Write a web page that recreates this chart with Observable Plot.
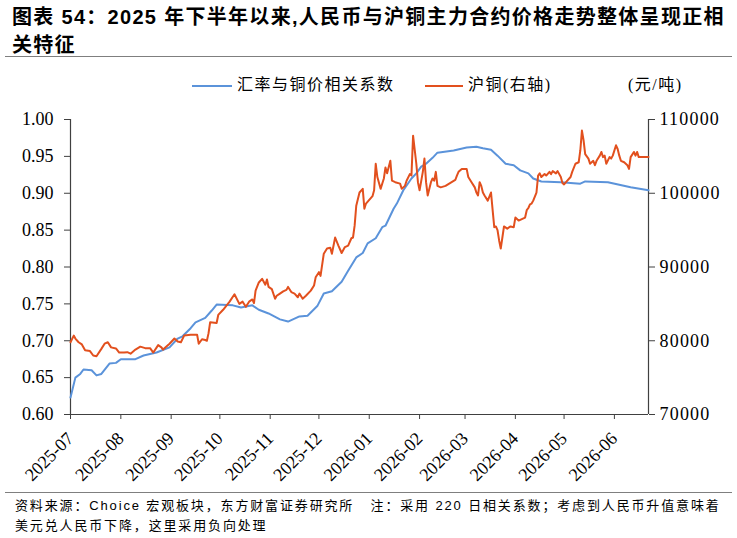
<!DOCTYPE html>
<html><head><meta charset="utf-8">
<script src="https://cdn.jsdelivr.net/npm/d3@7"></script>
<script src="https://cdn.jsdelivr.net/npm/@observablehq/plot@0.6"></script>
<style>
body{margin:0;background:#fff;width:737px;height:538px;position:relative;overflow:hidden;font-family:"Noto Sans CJK SC",sans-serif;color:#000;}
#title{position:absolute;left:12px;top:3px;font-family:"Liberation Sans","Noto Sans CJK SC",sans-serif;font-weight:bold;font-size:20px;line-height:28px;white-space:nowrap;letter-spacing:1.3px;}
.rule{position:absolute;left:5px;width:727px;height:1px;background:#7f7f7f;}
.lg{position:absolute;top:75px;font-size:16px;line-height:20px;letter-spacing:1.5px;white-space:nowrap;font-family:"Liberation Serif","Noto Sans CJK SC",serif;}
.sw{position:absolute;top:85px;height:2px;}
#chart{position:absolute;left:0;top:100px;}
#foot{position:absolute;left:15px;top:496px;font-size:13px;line-height:20px;white-space:pre;font-family:"Liberation Sans","Noto Sans CJK SC",sans-serif;letter-spacing:1.85px;}
</style></head>
<body>
<div id="title">图表 54：2025 年下半年以来,人民币与沪铜主力合约价格走势整体呈现正相<br>关特征</div>
<div class="rule" style="top:56px"></div>
<div class="sw" style="left:192px;width:40px;background:#5b93da"></div>
<div class="lg" style="left:237px">汇率与铜价相关系数</div>
<div class="sw" style="left:425px;width:38px;background:#e2501e"></div>
<div class="lg" style="left:468px">沪铜(右轴)</div>
<div class="lg" style="left:628px">(元/吨)</div>
<div id="chart"></div>
<div class="rule" style="top:492px"></div>
<div id="foot">资料来源：Choice 宏观板块，东方财富证券研究所   注：采用 220 日相关系数；考虑到人民币升值意味着
美元兑人民币下降，这里采用负向处理</div>
<script>
// 汇率与铜价相关系数 (left axis)
const corrSeries = [
["2025-07-01",0.623],["2025-07-04",0.650],["2025-07-07",0.655],["2025-07-09",0.661],["2025-07-14",0.660],
["2025-07-17",0.653],["2025-07-20",0.655],["2025-07-25",0.669],["2025-07-29",0.670],["2025-08-01",0.675],
["2025-08-10",0.675],["2025-08-15",0.680],["2025-08-23",0.684],["2025-08-31",0.691],["2025-09-05",0.703],
["2025-09-08",0.706],["2025-09-13",0.717],["2025-09-16",0.725],["2025-09-22",0.731],["2025-09-26",0.741],
["2025-09-29",0.749],["2025-10-09",0.748],["2025-10-14",0.745],["2025-10-21",0.748],["2025-10-25",0.742],
["2025-10-31",0.737],["2025-11-07",0.729],["2025-11-12",0.726],["2025-11-19",0.733],["2025-11-24",0.734],
["2025-11-30",0.747],["2025-12-04",0.764],["2025-12-09",0.767],["2025-12-15",0.780],["2025-12-19",0.795],
["2025-12-24",0.813],["2025-12-28",0.819],["2025-12-31",0.832],["2026-01-05",0.839],["2026-01-09",0.854],
["2026-01-11",0.856],["2026-01-16",0.879],["2026-01-18",0.886],["2026-01-22",0.904],["2026-01-27",0.920],
["2026-01-30",0.927],["2026-02-02",0.936],["2026-02-05",0.940],["2026-02-09",0.948],["2026-02-12",0.955],
["2026-02-22",0.958],["2026-03-02",0.962],["2026-03-08",0.963],["2026-03-12",0.961],["2026-03-17",0.959],
["2026-03-21",0.951],["2026-03-26",0.940],["2026-03-31",0.938],["2026-04-04",0.931],["2026-04-09",0.927],
["2026-04-12",0.920],["2026-04-17",0.916],["2026-04-29",0.915],["2026-05-11",0.913],["2026-05-14",0.916],
["2026-05-28",0.915],["2026-06-11",0.908],["2026-06-22",0.904]
];
// 沪铜 (right axis, 元/吨)
const copperSeries = [
["2025-07-01",79800],["2025-07-03",80700],["2025-07-04",80300],["2025-07-06",79800],["2025-07-08",79500],
["2025-07-10",78700],["2025-07-13",78600],["2025-07-15",78000],["2025-07-17",77900],["2025-07-20",78900],
["2025-07-22",79600],["2025-07-24",79800],["2025-07-26",79100],["2025-07-29",78950],["2025-07-31",78400],
["2025-08-03",78400],["2025-08-05",78450],["2025-08-07",78250],["2025-08-10",78800],["2025-08-13",79200],
["2025-08-16",79000],["2025-08-19",79000],["2025-08-21",78400],["2025-08-24",79400],["2025-08-26",79100],
["2025-08-27",78800],["2025-08-31",79600],["2025-09-03",80300],["2025-09-05",79900],["2025-09-07",79800],
["2025-09-09",80700],["2025-09-13",80800],["2025-09-15",80800],["2025-09-17",80800],["2025-09-18",79600],
["2025-09-20",80200],["2025-09-22",80100],["2025-09-23",80000],["2025-09-24",81000],["2025-09-25",82500],
["2025-09-29",82400],["2025-09-30",83500],["2025-10-03",84200],["2025-10-07",85300],["2025-10-10",86300],
["2025-10-13",85000],["2025-10-15",85300],["2025-10-17",84600],["2025-10-19",85300],["2025-10-21",85600],
["2025-10-22",85100],["2025-10-23",86800],["2025-10-25",87900],["2025-10-27",88400],["2025-10-29",87600],
["2025-10-30",88300],["2025-10-31",87300],["2025-11-02",87000],["2025-11-04",85700],["2025-11-05",86100],
["2025-11-07",86400],["2025-11-09",86700],["2025-11-11",86900],["2025-11-12",87300],["2025-11-14",86600],
["2025-11-16",86400],["2025-11-18",85900],["2025-11-19",86400],["2025-11-21",85700],["2025-11-23",86100],
["2025-11-26",86800],["2025-11-28",87500],["2025-11-29",88600],["2025-12-01",89300],["2025-12-02",88800],
["2025-12-04",91800],["2025-12-06",92500],["2025-12-08",92600],["2025-12-09",91800],["2025-12-11",94000],
["2025-12-13",92900],["2025-12-15",91900],["2025-12-17",92700],["2025-12-19",92900],["2025-12-21",93900],
["2025-12-22",94000],["2025-12-23",95600],["2025-12-24",98300],["2025-12-26",100100],["2025-12-28",100600],
["2025-12-29",97900],["2025-12-30",98600],["2026-01-03",99600],["2026-01-04",100400],["2026-01-05",104000],
["2026-01-06",102200],["2026-01-08",100600],["2026-01-10",102000],["2026-01-11",103500],["2026-01-12",102700],
["2026-01-14",104400],["2026-01-15",101700],["2026-01-17",101500],["2026-01-20",101300],["2026-01-21",100600],
["2026-01-23",101000],["2026-01-24",101700],["2026-01-26",102600],["2026-01-27",102400],["2026-01-28",107800],
["2026-01-30",104000],["2026-01-31",101500],["2026-02-01",100400],["2026-02-03",102900],["2026-02-04",104700],
["2026-02-05",101500],["2026-02-06",99700],["2026-02-08",101500],["2026-02-09",102000],["2026-02-10",101700],
["2026-02-11",102900],["2026-02-12",101000],["2026-02-14",100800],["2026-02-17",101000],["2026-02-20",101400],
["2026-02-23",101800],["2026-02-24",102400],["2026-02-25",102900],["2026-02-27",103300],["2026-03-02",103300],
["2026-03-03",102200],["2026-03-05",101500],["2026-03-07",100800],["2026-03-08",100100],["2026-03-09",99700],
["2026-03-10",101500],["2026-03-11",101000],["2026-03-12",100100],["2026-03-13",99700],["2026-03-15",99000],
["2026-03-17",100100],["2026-03-18",97700],["2026-03-19",95400],["2026-03-20",95500],["2026-03-21",95000],
["2026-03-22",93600],["2026-03-23",92500],["2026-03-24",94000],["2026-03-25",95500],["2026-03-27",95200],
["2026-03-29",95500],["2026-03-31",95400],["2026-04-01",96700],["2026-04-03",96300],["2026-04-04",96400],
["2026-04-07",96700],["2026-04-08",97700],["2026-04-09",98000],["2026-04-10",98500],["2026-04-11",98600],
["2026-04-12",99000],["2026-04-14",100100],["2026-04-15",102400],["2026-04-16",102700],["2026-04-17",102200],
["2026-04-19",102600],["2026-04-20",102400],["2026-04-22",102900],["2026-04-23",102600],["2026-04-24",103000],
["2026-04-26",102700],["2026-04-27",103000],["2026-04-29",102200],["2026-04-30",101400],["2026-05-01",101200],
["2026-05-03",101700],["2026-05-05",102200],["2026-05-06",102900],["2026-05-08",104000],["2026-05-10",104200],
["2026-05-11",105800],["2026-05-12",108500],["2026-05-13",107200],["2026-05-14",105300],["2026-05-16",104700],
["2026-05-17",104000],["2026-05-19",104400],["2026-05-20",103800],["2026-05-21",104400],["2026-05-23",105100],
["2026-05-24",105600],["2026-05-25",104900],["2026-05-26",105100],["2026-05-27",104000],["2026-05-29",104900],
["2026-05-30",104700],["2026-05-31",105100],["2026-06-02",106500],["2026-06-03",106000],["2026-06-04",105100],
["2026-06-05",104400],["2026-06-07",104200],["2026-06-09",103800],["2026-06-10",103300],["2026-06-11",104900],
["2026-06-13",105600],["2026-06-14",105100],["2026-06-15",105600],["2026-06-16",104900],["2026-06-18",104900],
["2026-06-22",104900]
];
const xDomain = ["2025-07-01","2026-06-22"];
const monthTicks = ["2025-07","2025-08","2025-09","2025-10","2025-11","2025-12","2026-01","2026-02","2026-03","2026-04","2026-05","2026-06"];
const leftTicks = [0.60,0.65,0.70,0.75,0.80,0.85,0.90,0.95,1.00];
const leftDomain = [0.60,1.00];
const rightTicks = [70000,80000,90000,100000,110000];
const rightDomain = [70000,110000];

const parse = d3.utcParse("%Y-%m-%d");
const toLeft = v => leftDomain[0] + (v - rightDomain[0]) / (rightDomain[1] - rightDomain[0]) * (leftDomain[1] - leftDomain[0]);
const fromLeft = p => rightDomain[0] + (p - leftDomain[0]) / (leftDomain[1] - leftDomain[0]) * (rightDomain[1] - rightDomain[0]);

const corr = corrSeries.map(([d, v]) => ({date: parse(d), v}));
const copper = copperSeries.map(([d, v]) => ({date: parse(d), v: toLeft(v)}));
const x0 = parse(xDomain[0]), x1 = parse(xDomain[1]);
const axisColor = "#404040";

const chart = Plot.plot({
  width: 737, height: 390,
  marginTop: 19, marginBottom: 76, marginLeft: 70, marginRight: 89,
  style: {fontFamily: "'Liberation Serif', 'Times New Roman', serif", fontSize: "18px", color: "#000", background: "transparent", overflow: "visible"},
  x: {type: "utc", domain: [x0, x1]},
  y: {domain: leftDomain},
  marks: [
    Plot.axisY({anchor: "left", ticks: leftTicks, tickFormat: d3.format(".2f"), tickSize: 6, tickPadding: 11, label: null, stroke: axisColor, fontSize: 18}),
    Plot.axisY({anchor: "right", ticks: rightTicks.map(toLeft), tickFormat: p => String(Math.round(fromLeft(p))), tickSize: 6, tickPadding: 5, label: null, stroke: axisColor, fontSize: 18}),
    Plot.axisX({ticks: monthTicks.map(m => parse(m + "-01")), tickFormat: d3.utcFormat("%Y-%m"), tickRotate: -45, tickSize: 5, tickPadding: 16, label: null, fontSize: 18, stroke: axisColor}),
    Plot.ruleX([x0, x1], {stroke: axisColor, strokeWidth: 1.2}),
    Plot.ruleY([leftDomain[0]], {stroke: axisColor, strokeWidth: 1.2}),
    Plot.line(corr, {x: "date", y: "v", stroke: "#5b93da", strokeWidth: 2}),
    Plot.line(copper, {x: "date", y: "v", stroke: "#e2501e", strokeWidth: 2})
  ]
});
// widen the right-axis labels slightly, as in the source
d3.select(chart).selectAll("text").filter(function(){ return /^\d{5,6}$/.test(this.textContent); }).style("letter-spacing", "1.2px");
document.getElementById("chart").appendChild(chart);
</script>
</body></html>
